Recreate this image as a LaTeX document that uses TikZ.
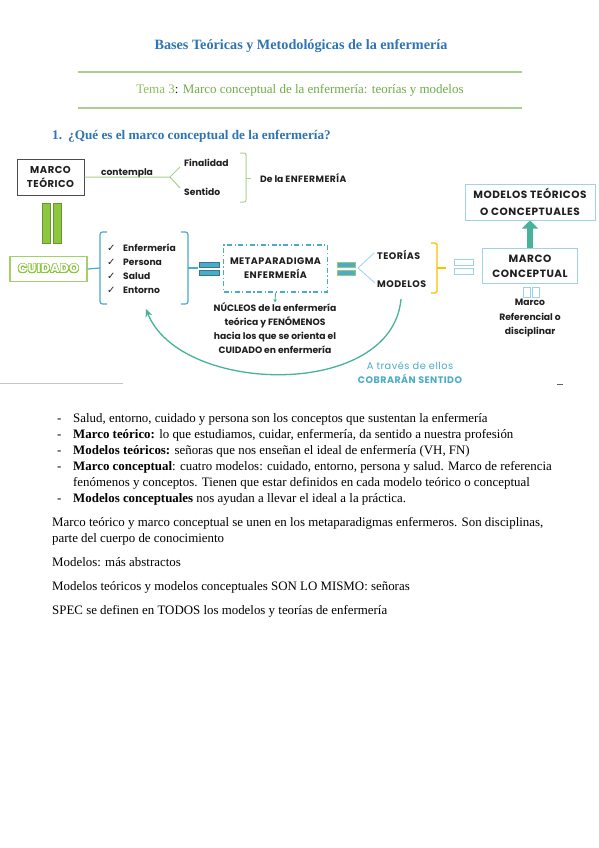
\documentclass[tikz,border=0pt]{standalone}
\usepackage{fontspec}
\setmainfont{Liberation Serif}
\newfontfamily\gfont{Poppins}
\newfontfamily\gcaps[LetterSpace=5]{Poppins}
\newfontfamily\dejavu{DejaVu Sans}
\usepackage{contour}
\contourlength{0.7pt}
\contournumber{24}
\usetikzlibrary{arrows.meta}
\definecolor{tblue}{HTML}{2E74B5}
\definecolor{lgreen}{HTML}{A9D18E}
\definecolor{tgreen}{HTML}{70AD47}
\definecolor{temagreen}{HTML}{8FBF5A}
\definecolor{cblue}{HTML}{4BACC6}
\definecolor{lblue}{HTML}{9DD3EA}
\definecolor{arrowteal}{HTML}{46B39A}
\definecolor{cuigreen}{HTML}{8CC63F}
\definecolor{bargreen}{HTML}{8DC63F}
\definecolor{orangeb}{HTML}{FFC000}
\definecolor{dtext}{HTML}{1F1F1F}
\tikzset{
  gtext/.style={font=\gfont\bfseries\fontsize{9.2}{11}\selectfont, text=dtext, align=center, inner sep=0pt},
  gcapstext/.style={gtext, font=\gcaps\bfseries\fontsize{9.5}{14}\selectfont},
  body/.style={font=\fontsize{12.9}{15}\selectfont, anchor=base west, inner sep=0pt},
  boxline/.style={draw=lblue, line width=1pt, fill=white},
  eqbar/.style={fill=cblue, draw=cblue!70!black, line width=0.4pt},
  hollowbar/.style={draw=lblue, line width=0.8pt, fill=white},
}
\begin{document}
\begin{tikzpicture}[x=1pt,y=-1pt]
\useasboundingbox (0,0) rectangle (599,848);
\fill[white] (0,0) rectangle (599,848);

% header
\node[font=\bfseries\fontsize{14.2}{16}\selectfont, text=tblue, inner sep=0pt] (title) at (301,46) {Bases Teóricas y Metodológicas de la enfermería};
\draw[lgreen, line width=1.2pt] (78,72) -- (522,72);
\node[font=\fontsize{13}{15}\selectfont, inner sep=0pt] (tema) at (300,90) {\textcolor{temagreen}{Tema 3}\textcolor{dtext}{:} \textcolor{tgreen}{Marco conceptual de la enfermería: teorías y modelos}};
\draw[lgreen, line width=1.2pt] (78,108) -- (522,108);
\node[font=\bfseries\fontsize{13.2}{15}\selectfont, text=tblue, anchor=base west, inner sep=0pt] (h1) at (52,139.5) {\makebox[16pt][l]{1.}¿Qué es el marco conceptual de la enfermería?};

% diagram: top row
\node[gcapstext, draw=dtext!80, line width=1pt, minimum width=67pt, minimum height=36pt, font=\gcaps\bfseries\fontsize{10}{14}\selectfont] (mt) at (50.5,177) {MARCO\\TEÓRICO};
\node[gtext] (cont) at (127,173) {contempla};
\node[gtext, anchor=west] (fin) at (184,163) {Finalidad};
\node[gtext, anchor=west] (sen) at (184,192) {Sentido};
\coordinate (cv) at (170,177);
\coordinate (c1) at (180,167);
\coordinate (c2) at (180,188);
\draw[lgreen, line width=1pt] (mt.east) -- (cv) -- (c1);
\draw[lgreen, line width=1pt] (cv) -- (c2);
\draw[lgreen, line width=1pt, rounded corners=2pt] (240,153) -- (246,153) -- (246,202) -- (240,202);
\coordinate (gb) at (246,178);
\coordinate (gbt) at (251,178);
\draw[lgreen, line width=1pt] (gb) -- (gbt);
\node[gtext, anchor=west] (dela) at (260,178) {De la \gcaps ENFERMERÍA};

% green double bar
\filldraw[fill=bargreen, draw=bargreen!75!black, line width=0.4pt] (42,203) rectangle (50,243);
\filldraw[fill=bargreen, draw=bargreen!75!black, line width=0.4pt] (53,203) rectangle (61,243);

% CUIDADO
\node[draw=cuigreen!80, line width=1.2pt, minimum width=77pt, minimum height=25pt, inner sep=0pt, font=\gcaps\bfseries\fontsize{12}{12}\selectfont] (cu) at (48.5,269) {\contour{cuigreen}{\textcolor{white}{CUIDADO}}};

% left blue brace
\draw[cblue, line width=1.2pt, rounded corners=2.5pt] (107,232) -- (100,232) -- (100,304) -- (107,304);
\coordinate (lb) at (100,268);
\draw[cblue, line width=1.2pt] (cu.east) -- (lb);

% list
\node[gtext, anchor=west, align=left, font=\gfont\bfseries\fontsize{9.2}{14}\selectfont] (list) at (107,269) {%
\makebox[16pt][l]{\dejavu\bfseries\fontsize{10}{14}\selectfont ✓}Enfermería\\
\makebox[16pt][l]{\dejavu\bfseries\fontsize{10}{14}\selectfont ✓}Persona\\
\makebox[16pt][l]{\dejavu\bfseries\fontsize{10}{14}\selectfont ✓}Salud\\
\makebox[16pt][l]{\dejavu\bfseries\fontsize{10}{14}\selectfont ✓}Entorno};

% right blue brace
\draw[cblue, line width=1.2pt, rounded corners=2.5pt] (181,232) -- (188,232) -- (188,304) -- (181,304);
\coordinate (rb) at (188,268);
\coordinate (eq1w) at (198,268);
\draw[cblue, line width=1.2pt] (rb) -- (eq1w);

% first equals
\filldraw[eqbar] (199,262) rectangle (219,267);
\filldraw[eqbar] (199,270) rectangle (219,275);

% metaparadigma
\node[gcapstext, draw=cblue, line width=1.2pt, dash pattern=on 5pt off 2.5pt on 1.2pt off 2.5pt, minimum width=104pt, minimum height=47pt] (meta) at (275.5,268.5) {METAPARADIGMA\\ENFERMERÍA};
\node[gtext, font=\gfont\bfseries\fontsize{9.2}{14}\selectfont] (nuc) at (275,328) {NÚCLEOS de la enfermería\\teórica y FENÓMENOS\\hacia los que se orienta el\\CUIDADO en enfermería};
\draw[arrowteal, line width=0.9pt, -{Stealth[length=3pt,width=3.5pt]}] (meta.south) -- (nuc.north);

% second equals
\filldraw[fill=cblue, draw=tgreen!70, line width=0.5pt] (337,262) rectangle (355,267);
\filldraw[fill=cblue, draw=tgreen!70, line width=0.5pt] (337,270) rectangle (355,275);

% teorias / modelos
\node[gcapstext, anchor=west] (teo) at (377,255) {TEORÍAS};
\node[gcapstext, anchor=west] (mod) at (377,284) {MODELOS};
\coordinate (tv) at (358,268);
\coordinate (t1) at (374,253);
\coordinate (t2) at (375,283);
\draw[lblue, line width=0.8pt] (t1) -- (tv) -- (t2);

% orange brace
\draw[orangeb, line width=1.3pt, rounded corners=2pt] (431,243) -- (437,243) -- (437,293) -- (431,293);
\coordinate (ob) at (437,268);
\coordinate (obt) at (446,268);
\draw[orangeb, line width=1.3pt] (ob) -- (obt);

% hollow equals
\draw[hollowbar] (454,259) rectangle (473,265);
\draw[hollowbar] (454,268) rectangle (473,274);

% marco conceptual
\node[gcapstext, boxline, minimum width=95pt, minimum height=35pt, font=\gcaps\bfseries\fontsize{10.5}{15}\selectfont] (mc) at (530,266) {MARCO\\CONCEPTUAL};
\draw[hollowbar] (523,287) rectangle (530,297);
\draw[hollowbar] (532,287) rectangle (539,297);
\node[gtext, font=\gfont\bfseries\fontsize{9.2}{14.5}\selectfont] (ref) at (530,318) {Marco\\Referencial o\\disciplinar};

% modelos teoricos
\node[gcapstext, boxline, minimum width=130pt, minimum height=36pt, font=\gcaps\bfseries\fontsize{10.5}{17}\selectfont] (mtc) at (530,202) {MODELOS TEÓRICOS\\O CONCEPTUALES};
\draw[arrowteal, line width=6pt, -{Triangle[width=16pt,length=8pt]}] (mc.north) -- (mtc.south);

% big curved arrow
\coordinate (cs) at (401,299);
\coordinate (ce) at (146,309);
\draw[arrowteal, line width=1.3pt, -{Stealth[length=8pt,width=7pt]}] (cs) .. controls (392,400) and (180,395) .. (ce);
\node[gtext, text=cblue, font=\gcaps\fontsize{9.8}{13}\selectfont] (atr) at (410,366) {A través de ellos};
\node[gcapstext, text=cblue] (cob) at (410,379) {COBRARÁN SENTIDO};

% rules
\draw[gray!45, line width=0.8pt] (0,383) -- (123,383);
\draw[dtext!70, line width=0.8pt] (557,384) -- (563,384);

% body text
\node[body] (l1d) at (57,422) {-};
\node[body] (l1) at (73,422) {Salud, entorno, cuidado y persona son los conceptos que sustentan la enfermería};
\node[body] (l2d) at (57,438) {-};
\node[body] (l2) at (73,438) {\textbf{Marco teórico:} lo que estudiamos, cuidar, enfermería, da sentido a nuestra profesión};
\node[body] (l3d) at (57,454) {-};
\node[body] (l3) at (73,454) {\textbf{Modelos teóricos:} señoras que nos enseñan el ideal de enfermería (VH, FN)};
\node[body] (l4d) at (57,470) {-};
\node[body] (l4) at (73,470) {\textbf{Marco conceptual}: cuatro modelos: cuidado, entorno, persona y salud. Marco de referencia};
\node[body] (l5) at (73,486) {fenómenos y conceptos. Tienen que estar definidos en cada modelo teórico o conceptual};
\node[body] (l6d) at (57,502) {-};
\node[body] (l6) at (73,502) {\textbf{Modelos conceptuales} nos ayudan a llevar el ideal a la práctica.};

\node[body] (p1) at (52,526) {Marco teórico y marco conceptual se unen en los metaparadigmas enfermeros. Son disciplinas,};
\node[body] (p2) at (52,542) {parte del cuerpo de conocimiento};
\node[body] (p3) at (52,566) {Modelos: más abstractos};
\node[body] (p4) at (52,590) {Modelos teóricos y modelos conceptuales SON LO MISMO: señoras};
\node[body] (p5) at (52,614) {SPEC se definen en TODOS los modelos y teorías de enfermería};
\end{tikzpicture}
\end{document}
